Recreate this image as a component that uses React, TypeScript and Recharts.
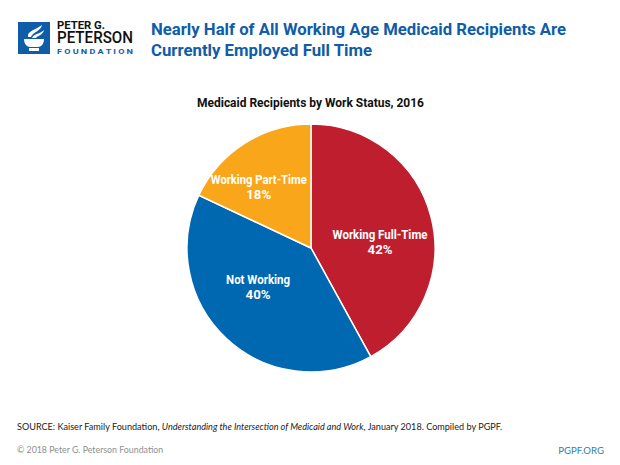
import { PieChart, Pie, Cell } from "recharts";

// ── Data ──────────────────────────────────────────────────────────────────────

const categories = ["Working Full-Time", "Not Working", "Working Part-Time"];
const shares = [42, 40, 18];
const colors = ["#BE1E2D", "#0067B1", "#FAA61A"];

const data = categories.map((name, i) => ({ name, value: shares[i] }));

const BLUE = "#0F5CA8";
const SANS = "Roboto, 'Liberation Sans', sans-serif";
const BODY = "Lato, 'Open Sans', sans-serif";

// the reference is set in a condensed face, so text gets squeezed to its measured width
const labelNudge = [
  { dx: 9, dy: 6, width: 95 },
  { dx: -10.5, dy: -9.5, width: 64 },
  { dx: -19, dy: -12, width: 96 },
];

function Squeezed({ x, y, width, size, fill, anchor = "start", weight = 700, children }: any) {
  return (
    <text
      x={x}
      y={y}
      textAnchor={anchor}
      textLength={width}
      lengthAdjust="spacingAndGlyphs"
      fontFamily={SANS}
      fontWeight={weight}
      fontSize={size}
      fill={fill}
    >
      {children}
    </text>
  );
}

// ── Slice label ───────────────────────────────────────────────────────────────

function SliceLabel({ cx, cy, midAngle, outerRadius, index, name, value }: any) {
  const rad = (midAngle * Math.PI) / 180;
  const n = labelNudge[index];
  const x = cx + outerRadius * 0.5 * Math.cos(rad) + n.dx;
  const y = cy - outerRadius * 0.5 * Math.sin(rad) + n.dy;
  return (
    <g>
      <Squeezed x={x} y={y} width={n.width} size={13} fill="#fff" anchor="middle">{name}</Squeezed>
      <Squeezed x={x} y={y + 15} width={25} size={13} fill="#fff" anchor="middle">{value}%</Squeezed>
    </g>
  );
}

// ── Header, logo included ─────────────────────────────────────────────────────

function Header() {
  return (
    <svg width={620} height={120} style={{ position: "absolute", left: 0, top: 0 }}>
      <rect x={18} y={22} width={32} height={32} fill={BLUE} />
      <path d="M28 37 C27 31 35 30 42 25 C41 31 33 32 31 37 Z" fill="#fff" />
      <path d="M32 38 C33 34 40 34 44 30 C43 35 37 36 36 38 Z" fill="#fff" />
      <path d="M24 39 H44 C44 44 41 47 38 47 H30 C27 47 24 44 24 39 Z" fill="#fff" />
      <rect x={29} y={48} width={10} height={3} fill="#fff" />
      <Squeezed x={57} y={29} width={48} size={11} fill="#111">PETER G.</Squeezed>
      <Squeezed x={57} y={43} width={76} size={16.5} fill="#111" weight={500}>PETERSON</Squeezed>
      <Squeezed x={57} y={53.5} width={76} size={7} fill={BLUE}>F O U N D A T I O N</Squeezed>

      <Squeezed x={151} y={35} width={415} size={17} fill={BLUE}>
        Nearly Half of All Working Age Medicaid Recipients Are
      </Squeezed>
      <Squeezed x={151} y={56} width={221} size={17} fill={BLUE}>
        Currently Employed Full Time
      </Squeezed>
      <Squeezed x={197} y={107} width={227} size={12.5} fill="#111">
        Medicaid Recipients by Work Status, 2016
      </Squeezed>
    </svg>
  );
}

// ── Chart ─────────────────────────────────────────────────────────────────────

export default function App() {
  return (
    <div style={{ position: "absolute", left: 0, top: 0, width: 620, height: 465, background: "#fff", overflow: "hidden" }}>
      <PieChart width={620} height={465} margin={{ top: 0, right: 0, bottom: 0, left: 0 }}>
        <Pie
          data={data}
          dataKey="value"
          nameKey="name"
          cx={311}
          cy={248}
          outerRadius={124}
          startAngle={90}
          endAngle={-270}
          stroke="#fff"
          strokeWidth={1.5}
          label={SliceLabel}
          labelLine={false}
          isAnimationActive={false}
        >
          {data.map((d, i) => (
            <Cell key={d.name} fill={colors[i]} />
          ))}
        </Pie>
      </PieChart>

      <Header />

      <div style={{ position: "absolute", left: 17, top: 421, fontFamily: BODY, fontSize: 9.1, color: "#222", whiteSpace: "nowrap" }}>
        SOURCE: Kaiser Family Foundation, <i>Understanding the Intersection of Medicaid and Work</i>, January 2018. Compiled by PGPF.
      </div>

      <div style={{ position: "absolute", left: 17, top: 444, fontFamily: BODY, fontSize: 8.8, color: "#8f8f8f", whiteSpace: "nowrap" }}>
        © 2018 Peter G. Peterson Foundation
      </div>

      <div style={{ position: "absolute", right: 16, top: 445, fontFamily: BODY, fontSize: 9.6, color: "#2F7FB5", whiteSpace: "nowrap" }}>
        PGPF.ORG
      </div>
    </div>
  );
}
